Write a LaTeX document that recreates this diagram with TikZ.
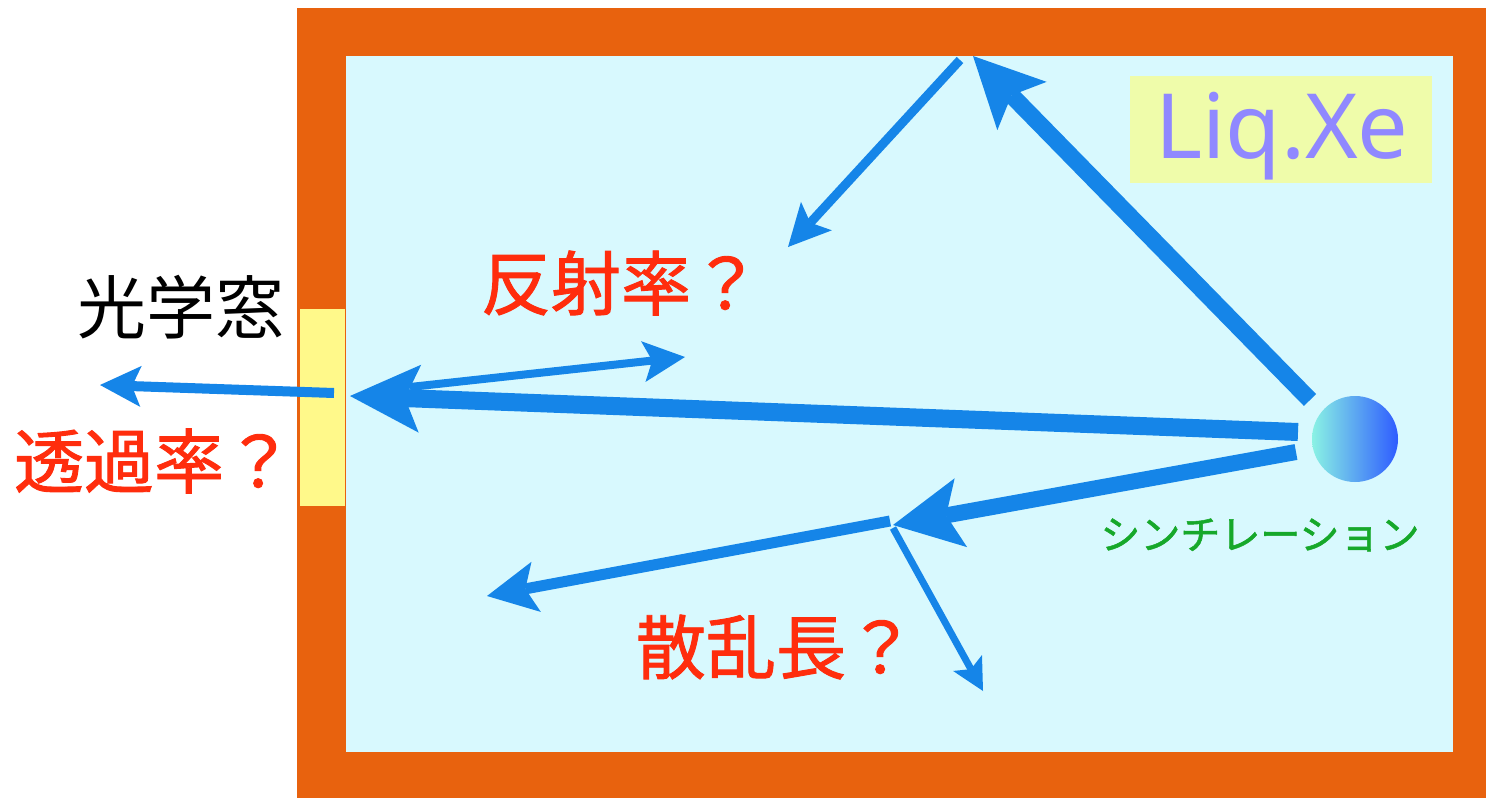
\documentclass[tikz,border=0pt]{standalone}
\usepackage{fontspec}
\usetikzlibrary{arrows.meta}
\newfontfamily\jpfont{Noto Sans CJK JP}
\newfontfamily\jpmedium[FakeBold=1.3]{Noto Sans CJK JP}
\newfontfamily\liqfont{Noto Sans}
\definecolor{frameorange}{HTML}{E8620E}
\definecolor{xecyan}{HTML}{D8F9FE}
\definecolor{winyellow}{HTML}{FFF98A}
\definecolor{liqbox}{HTML}{EFFCAA}
\definecolor{liqtext}{HTML}{9088FF}
\definecolor{rayblue}{HTML}{1585E8}
\definecolor{labelred}{HTML}{FF2D0D}
\definecolor{scintgreen}{HTML}{16A82A}
\definecolor{ballleft}{HTML}{8AF2E4}
\definecolor{ballright}{HTML}{2E5CFF}
\begin{document}
\begin{tikzpicture}[x=1pt,y=-1pt,
  ray/.style={draw=rayblue},
  rayhead/.style n args={3}{-{Stealth[length=#1pt,width=#2pt,inset=#3pt,line width=0pt]}},
  qlabel/.style={text=labelred,font=\jpmedium\fontsize{70}{80}\selectfont,inner sep=0pt}
]
\useasboundingbox (0,0) rectangle (1486,798);
\fill[white] (0,0) rectangle (1486,798);
% vessel
\fill[frameorange] (297,8) rectangle (1486,798);
\fill[xecyan] (346,56) rectangle (1453,752);
% optical window
\node[draw=frameorange,fill=winyellow,line width=1pt,minimum width=46pt,minimum height=198pt,inner sep=0pt] (window) at (322,407) {};
% Liq.Xe label
\node[fill=liqbox,minimum width=302pt,minimum height=107pt,inner sep=0pt] (liqbox) at (1281,129.5) {};
\node[anchor=base,text=liqtext,font=\liqfont\fontsize{90}{100}\selectfont,inner sep=0pt] (liq) at (1282,158) {Liq.Xe};
% scintillation source
\node[circle,minimum size=86pt,inner sep=0pt,left color=ballleft,right color=ballright] (ball) at (1355,439) {};
\node[text=scintgreen,font=\jpmedium\fontsize{40}{48}\selectfont,inner sep=0pt] (scint) at (1260,535) {シンチレーション};
% texts
\node[font=\jpfont\fontsize{69}{80}\selectfont,inner sep=0pt] (windowlabel) at (180.5,307.5) {光学窓};
\node[qlabel] (trans) at (154,461) {透過率？};
\node[qlabel] (refl) at (621,283) {反射率？};
\node[qlabel] (scat) at (776,647) {散乱長？};
% ray coordinates
\coordinate (a1s) at (1310,400); \coordinate (a1e) at (973,56);
\coordinate (a2s) at (960,60);   \coordinate (a2e) at (788,247);
\coordinate (a3s) at (1298,432); \coordinate (a3e) at (350,396);
\coordinate (a4s) at (410,387);  \coordinate (a4e) at (685,357);
\coordinate (a5s) at (334,393);  \coordinate (a5e) at (100,385);
\coordinate (a6s) at (1296,452); \coordinate (a6e) at (893,525);
\coordinate (a7s) at (890,521);  \coordinate (a7e) at (487,596);
\coordinate (a8s) at (893,528);  \coordinate (a8e) at (983,691);
% rays
\draw[ray,line width=17pt,rayhead={70}{69}{15}] (a1s) -- (a1e);
\draw[ray,line width=9pt,rayhead={42}{42}{9}] (a2s) -- (a2e);
\draw[ray,line width=18pt,rayhead={70}{68}{15}] (a3s) -- (a3e);
\draw[ray,line width=8pt,rayhead={42}{41}{9}] (a4s) -- (a4e);
\draw[ray,line width=10pt,rayhead={41}{41}{9}] (a5s) -- (a5e);
\draw[ray,line width=16pt,rayhead={69}{70}{15}] (a6s) -- (a6e);
\draw[ray,line width=11pt,rayhead={50}{51}{11}] (a7s) -- (a7e);
\draw[ray,line width=7pt,rayhead={32}{33}{7}] (a8s) -- (a8e);
\end{tikzpicture}
\end{document}
